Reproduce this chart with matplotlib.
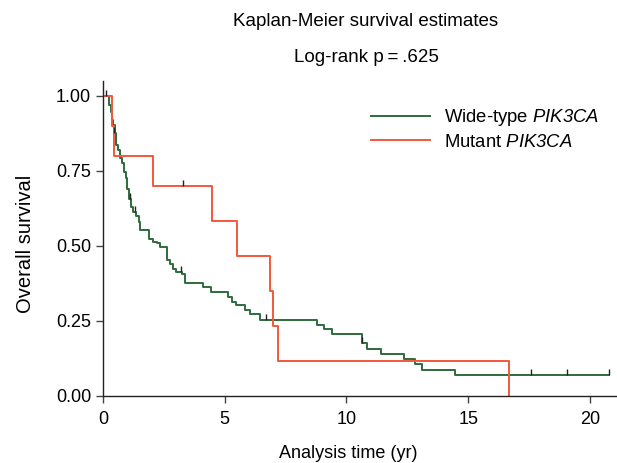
import matplotlib
matplotlib.use("Agg")
import matplotlib.pyplot as plt

plt.rcParams['font.family'] = ['Liberation Sans', 'DejaVu Sans']
plt.rcParams['mathtext.fontset'] = 'custom'
# only the gene name is in math mode, so rm can be italic too (digits use rm)
plt.rcParams['mathtext.it'] = 'Liberation Sans:italic'
plt.rcParams['mathtext.rm'] = 'Liberation Sans:italic'

# Kaplan-Meier step data
wt_times = [0, 0.25, 0.33, 0.36, 0.41, 0.48, 0.55, 0.62, 0.71, 0.80, 0.85, 0.93,
            1.00, 1.06, 1.14, 1.23, 1.37, 1.47, 1.51, 1.88, 2.05, 2.20, 2.36, 2.63,
            2.74, 2.86, 3.00, 3.25, 3.35, 4.10, 4.45, 5.14, 5.31, 5.47, 5.82, 6.02,
            6.43, 8.80, 9.08, 9.42, 10.63, 10.84, 11.42, 12.37, 12.80, 13.10, 14.47, 20.8]
wt_surv = [1.0, 0.969, 0.947, 0.919, 0.902, 0.875, 0.836, 0.819, 0.791, 0.775, 0.747, 0.725,
           0.690, 0.657, 0.629, 0.612, 0.598, 0.579, 0.552, 0.524, 0.512, 0.508, 0.496, 0.452,
           0.438, 0.424, 0.413, 0.405, 0.377, 0.363, 0.346, 0.330, 0.313, 0.302, 0.285, 0.272,
           0.254, 0.238, 0.224, 0.208, 0.177, 0.158, 0.141, 0.122, 0.106, 0.085, 0.069, 0.069]
wt_cens_t = [0.12, 0.46, 1.09, 1.32, 3.20, 6.70, 10.63, 17.56, 19.07, 20.8]
wt_cens_s = [1.0, 0.875, 0.657, 0.612, 0.413, 0.254, 0.177, 0.069, 0.069, 0.069]

mut_times = [0, 0.39, 0.47, 2.05, 4.47, 5.50, 6.87, 6.99, 7.18, 16.66]
mut_surv = [1.0, 0.9, 0.8, 0.7, 0.583, 0.467, 0.35, 0.233, 0.117, 0.0]
mut_cens_t = [3.3]
mut_cens_s = [0.7]

x_ticks = [0, 5, 10, 15, 20]
y_ticks = [0, 0.25, 0.5, 0.75, 1.0]

green = '#2f6b3c'
red = '#f4583c'

fig = plt.figure(figsize=(6.17, 4.63), dpi=100)
ax = fig.add_axes([103 / 617, 1 - 396 / 463, 514 / 617, 315 / 463])

ax.step(wt_times, wt_surv, where='post', color=green, lw=1.4,
        label=r'Wide-type $PIK3CA$')
ax.step(mut_times, mut_surv, where='post', color=red, lw=1.4,
        label=r'Mutant $PIK3CA$')
# censoring marks, drawn upward from the curve
ax.vlines(wt_cens_t, wt_cens_s, [s + 0.02 for s in wt_cens_s], color='#222222', lw=1)
ax.vlines(mut_cens_t, mut_cens_s, [s + 0.02 for s in mut_cens_s], color='#222222', lw=1)

ax.set_xlim(0, 21.11)
ax.set_ylim(0, 1.049)
ax.set_xticks(x_ticks)
ax.set_yticks(y_ticks)
ax.set_yticklabels(['%.2f' % v for v in y_ticks])
ax.tick_params(labelsize=13, length=5, width=1, color='#444444', pad=3.5)
ax.tick_params(axis='x', pad=6)
for s in ['top', 'right']:
    ax.spines[s].set_visible(False)
for s in ['left', 'bottom']:
    ax.spines[s].set_color('#222222')
    ax.spines[s].set_linewidth(1)

ax.set_xlabel('Analysis time (yr)', fontsize=13)
ax.xaxis.set_label_coords((348 - 103) / 514, -0.156)
ax.set_ylabel('Overall survival', fontsize=14.5)
ax.yaxis.set_label_coords(-(103 - 35) / 514, 0.483)

fig.text(366 / 617, 1 - 21 / 463, 'Kaplan-Meier survival estimates', ha='center', va='center', fontsize=13.5)
fig.text(366 / 617, 1 - 58 / 463, 'Log-rank p\u2009=\u2009.625', ha='center', va='center', fontsize=13.5)

ax.legend(loc='upper left', bbox_to_anchor=(371 / 617, 1 - 107 / 463),
          bbox_transform=fig.transFigure, frameon=False, fontsize=13.3,
          handlelength=3.2, handletextpad=0.75, labelspacing=0.32, borderpad=0,
          borderaxespad=0)

fig.savefig('out.png', dpi=100)
